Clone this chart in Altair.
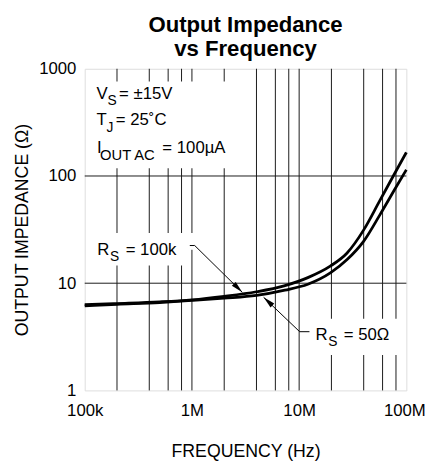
import altair as alt
import pandas as pd

FONT = "Liberation Sans"

# ---- curves ----
freq_100k = [1e5, 2e5, 5e5, 1e6, 2e6, 4e6, 7.24e6, 1.205e7, 1.95e7, 2.8e7, 3.99e7, 5.62e7, 7.55e7, 1e8]
z_100k = [6.3, 6.46, 6.7, 7.0, 7.55, 8.32, 9.44, 11.27, 14.42, 19.14, 31.26, 58.2, 100.0, 166.0]
freq_50 = [1e5, 2e5, 5e5, 1e6, 2e6, 4e6, 7.36e6, 1.205e7, 1.97e7, 2.8e7, 3.99e7, 5.68e7, 8.05e7, 1e8]
z_50 = [6.15, 6.35, 6.6, 6.9, 7.24, 7.69, 8.61, 9.77, 12.53, 16.6, 24.55, 43.65, 79.4, 114.3]

# ---- axes / grid ----
x_ticks = [1e5, 1e6, 1e7, 1e8]
x_tick_labels = ["100k", "1M", "10M", "100M"]
y_ticks = [1, 10, 100, 1000]
x_grid = [2e5, 4e5, 6e5, 8e5, 1e6, 2e6, 4e6, 6e6, 8e6, 1e7, 2e7, 4e7, 6e7, 8e7]
y_grid = [10, 100]

# ---- annotation texts (text, freq, impedance, font size) ----
ann_text = ["V", "S", "= \u00b115V",
            "T", "J", "= 25\u02daC",
            "I", "OUT AC", "= 100\u00b5A",
            "R", "S", "= 100k",
            "R", "S", "= 50\u03a9"]
ann_f = [1.29e5, 1.63e5, 2.09e5,
         1.29e5, 1.60e5, 1.95e5,
         1.30e5, 1.39e5, 5.3e5,
         1.31e5, 1.72e5, 2.41e5,
         1.42e7, 1.87e7, 2.61e7]
ann_z = [523, 455, 523,
         298, 255, 298,
         164, 142, 164,
         18.45, 16.0, 18.45,
         2.955, 2.57, 2.955]
ann_size = [17, 14, 17,
            17, 14, 17,
            17, 15, 17,
            17, 14, 17,
            17, 14, 17]

# white label backgrounds (freq from, freq to, z from, z to)
bg_f1 = [1.032e5, 1.222e5, 9.09e5, 1.302e7]
bg_f2 = [2.904e6, 9.09e5, 1.055e6, 8.9e7]
bg_z1 = [760, 29.4, 20.5, 4.67]
bg_z2 = [118.4, 14.63, 29.4, 2.14]

# leader lines
lead_id = [0, 0, 0, 1, 1, 1]
lead_seq = [0, 1, 2, 0, 1, 2]
lead_f = [9.55e5, 1.061e6, 2.95e6, 1.248e7, 1.011e7, 4.66e6]
lead_z = [22.46, 22.46, 8.22, 3.53, 3.53, 7.39]
arrow_f = [2.95e6, 4.66e6]
arrow_z = [8.22, 7.39]
arrow_angle = [135, 313]

curves = pd.DataFrame({
    "f": freq_100k + freq_50,
    "z": z_100k + z_50,
    "s": ["100k"] * len(freq_100k) + ["50"] * len(freq_50),
})
vgrid = pd.DataFrame({"f": x_grid})
hgrid = pd.DataFrame({"z": y_grid})
texts = pd.DataFrame({"t": ann_text, "f": ann_f, "z": ann_z, "size": ann_size})
bgs = pd.DataFrame({"f": bg_f1, "f2": bg_f2, "z": bg_z1, "z2": bg_z2})
leads = pd.DataFrame({"id": lead_id, "seq": lead_seq, "f": lead_f, "z": lead_z})
arrows = pd.DataFrame({"f": arrow_f, "z": arrow_z, "a": arrow_angle})

label_map = "{" + ",".join(f"'{int(v)}':'{l}'" for v, l in zip(x_ticks, x_tick_labels)) + "}"

xaxis = alt.Axis(
    values=x_ticks,
    labelExpr=f"{label_map}[''+datum.value]",
    title="FREQUENCY (Hz)",
    labelFlush=False,
    labelFontSize=17,
    labelFont=FONT,
    labelColor="black",
    labelPadding=13,
    labelOffset={"condition": {"test": "datum.value >= 1e8", "value": -2}, "value": 0},
    titleFontSize=18,
    titleFont=FONT,
    titleFontWeight="normal",
    titleColor="black",
    titlePadding=24,
    domain=False,
    ticks=False,
    grid=False,
)
yaxis = alt.Axis(
    values=y_ticks,
    labelExpr="format(datum.value, 'd')",
    title="OUTPUT IMPEDANCE (\u03a9)",
    labelFontSize=17,
    labelFont=FONT,
    labelColor="black",
    labelPadding=9,
    titleFontSize=18,
    titleFont=FONT,
    titleFontWeight="normal",
    titleColor="black",
    titlePadding=7,
    domain=False,
    ticks=False,
    grid=False,
)
xs = alt.Scale(type="log", domain=[1e5, 1e8])
ys = alt.Scale(type="log", domain=[1, 1000])
X = alt.X("f:Q", scale=xs, axis=xaxis)
Y = alt.Y("z:Q", scale=ys, axis=yaxis)

vlines = alt.Chart(vgrid).mark_rule(color="#1a1a1a", strokeWidth=1).encode(x=X)
hlines = alt.Chart(hgrid).mark_rule(color="#1a1a1a", strokeWidth=1).encode(y=Y)
bg = alt.Chart(bgs).mark_rect(color="white").encode(
    x=X, x2="f2:Q", y=Y, y2="z2:Q")
lines = alt.Chart(curves).mark_line(color="black", strokeWidth=2.8, interpolate="monotone").encode(
    x=X, y=Y, detail="s:N")
leader = alt.Chart(leads).mark_line(color="black", strokeWidth=1).encode(
    x=X, y=Y, detail="id:N", order="seq:Q")
heads = alt.Chart(arrows).mark_point(
    shape="M0,0 L-0.45,2 L0.45,2 Z", filled=True, color="black", opacity=1, size=150, strokeWidth=0
).encode(x=X, y=Y, angle=alt.Angle("a:Q", scale=None))
labels = alt.Chart(texts).mark_text(
    align="left", baseline="alphabetic", font=FONT, color="black"
).encode(x=X, y=Y, text="t:N", size=alt.Size("size:Q", scale=None))

chart = alt.layer(vlines, hlines, bg, lines, leader, heads, labels).properties(
    width=327,
    height=327,
    title=alt.TitleParams(
        ["Output Impedance", "vs Frequency"],
        fontSize=22.5,
        fontWeight="bold",
        font=FONT,
        color="black",
        anchor="middle",
        lineHeight=25,
        offset=6,
        dy=7,
    ),
    autosize=alt.AutoSizeParams(type="none"),
    padding={"left": 78, "top": 58, "right": 22, "bottom": 70},
).configure_view(stroke="black", strokeWidth=2).configure(background="white")

chart.save("out.html", embed_options={"renderer": "svg", "actions": False})
